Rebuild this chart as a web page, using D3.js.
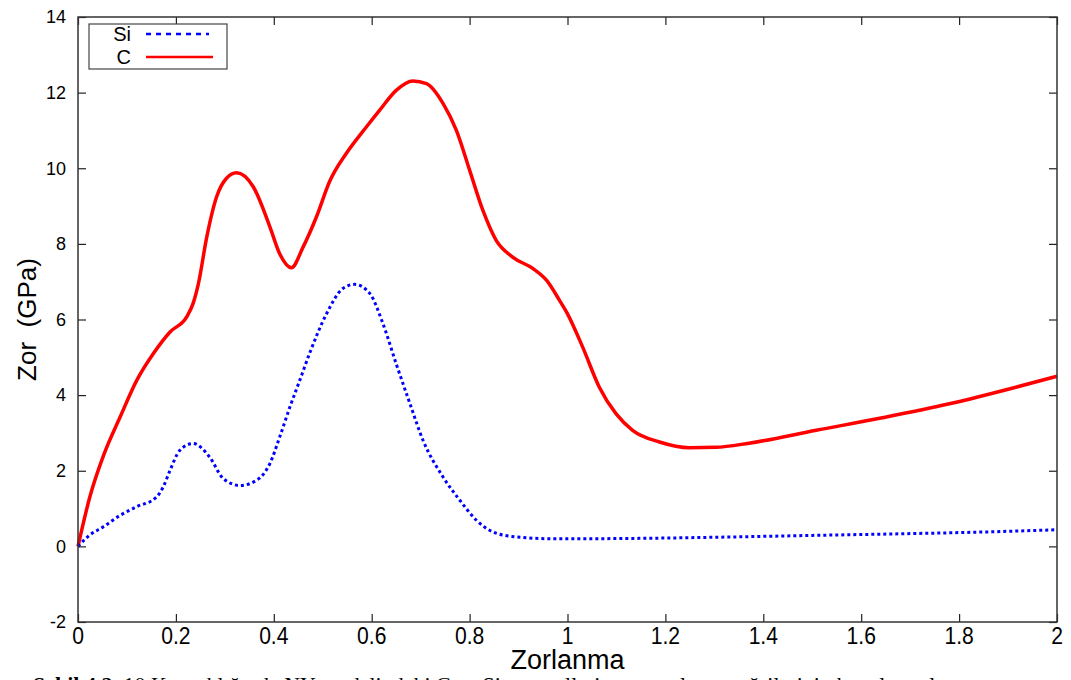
<!DOCTYPE html>
<html>
<head>
<meta charset="utf-8">
<script src="https://cdn.jsdelivr.net/npm/d3@7"></script>
<style>
  body { margin: 0; background: #fff; }
  text { font-family: "Liberation Sans", Arial, sans-serif; }
</style>
</head>
<body>
<div id="chart"></div>
<script>
// strain values and stress (GPa)
let xC = [0, 0.024, 0.052, 0.086, 0.12, 0.154, 0.188, 0.222, 0.235, 0.246, 0.263, 0.283, 0.303, 0.324, 0.358, 0.392, 0.412, 0.436, 0.46, 0.487, 0.514, 0.548, 0.589, 0.616, 0.65, 0.684, 0.712, 0.746, 0.773, 0.8, 0.827, 0.854, 0.888, 0.929, 0.957, 0.984, 1.0, 1.031, 1.065, 1.099, 1.133, 1.188, 1.249, 1.303, 1.371, 1.508, 1.643, 1.78, 1.916, 2.0];
let yC = [0, 1.3, 2.4, 3.42, 4.39, 5.1, 5.67, 6.07, 6.42, 6.95, 8.18, 9.24, 9.73, 9.88, 9.51, 8.45, 7.74, 7.37, 7.92, 8.71, 9.65, 10.39, 11.09, 11.53, 12.06, 12.31, 12.24, 11.71, 11.0, 9.95, 8.89, 8.1, 7.65, 7.35, 7.04, 6.5, 6.15, 5.27, 4.21, 3.51, 3.07, 2.76, 2.61, 2.62, 2.73, 3.07, 3.4, 3.77, 4.21, 4.5];

let xSi = [0, 0.024, 0.052, 0.086, 0.12, 0.16, 0.174, 0.188, 0.208, 0.235, 0.269, 0.297, 0.331, 0.365, 0.392, 0.412, 0.433, 0.453, 0.473, 0.508, 0.541, 0.565, 0.596, 0.623, 0.65, 0.678, 0.705, 0.746, 0.78, 0.814, 0.848, 0.895, 0.976, 1.2, 1.34, 1.5, 1.71, 1.85, 2.0];
let ySi = [0, 0.3, 0.52, 0.82, 1.05, 1.3, 1.57, 2.01, 2.54, 2.72, 2.36, 1.79, 1.61, 1.75, 2.19, 2.89, 3.69, 4.39, 5.1, 6.16, 6.82, 6.93, 6.69, 5.89, 4.83, 3.78, 2.8, 1.83, 1.22, 0.69, 0.38, 0.25, 0.2, 0.22, 0.25, 0.29, 0.34, 0.38, 0.44];

let xTicks = [0, 0.2, 0.4, 0.6, 0.8, 1, 1.2, 1.4, 1.6, 1.8, 2];
let yTicks = [-2, 0, 2, 4, 6, 8, 10, 12, 14];

let seriesNames = ["Si", "C"];
let seriesColors = ["#0000ff", "#ff0000"];

var width = 1071, height = 680;
var margin = { top: 17, right: 14, bottom: 58, left: 78 };

var svg = d3.select("#chart")
  .append("svg")
  .attr("width", width)
  .attr("height", height);

var x = d3.scaleLinear()
  .domain([0, 2])
  .range([margin.left, width - margin.right]);

var y = d3.scaleLinear()
  .domain([-2, 14])
  .range([height - margin.bottom, margin.top]);

var line = d3.line()
  .x(d => x(d[0]))
  .y(d => y(d[1]))
  .curve(d3.curveMonotoneX);

let dataSi = xSi.map((v, i) => [v, ySi[i]]);
let dataC = xC.map((v, i) => [v, yC[i]]);

svg.append("path")
  .datum(dataC)
  .attr("fill", "none")
  .attr("stroke", seriesColors[1])
  .attr("stroke-width", 3.5)
  .attr("d", line);

svg.append("path")
  .datum(dataSi)
  .attr("fill", "none")
  .attr("stroke", seriesColors[0])
  .attr("stroke-width", 3)
  .attr("stroke-dasharray", "3,3")
  .attr("d", line);

// axes, ticks inward on all four sides
var tickLen = 8;
svg.append("g")
  .attr("transform", "translate(0," + y(-2) + ")")
  .call(d3.axisBottom(x).tickValues(xTicks).tickSize(-tickLen).tickFormat(""))
  .call(g => g.select(".domain").remove());

// condensed x labels, scaled around the tick position
xTicks.forEach(function(t) {
  svg.append("text")
    .attr("transform", "translate(" + x(t) + "," + 644 + ") scale(0.88,1)")
    .attr("text-anchor", "middle")
    .attr("font-size", 24)
    .text(String(t));
});

svg.append("g")
  .attr("transform", "translate(0," + y(14) + ")")
  .call(d3.axisTop(x).tickValues(xTicks).tickSize(-tickLen).tickFormat(""))
  .call(g => g.select(".domain").remove());

svg.append("g")
  .attr("transform", "translate(" + x(0) + ",0)")
  .call(d3.axisLeft(y).tickValues(yTicks).tickSize(-tickLen).tickPadding(12)
    .tickFormat(d => String(d)))
  .call(g => g.select(".domain").remove())
  .call(g => g.selectAll("text").attr("font-size", 18).attr("fill", "#000")
    .attr("font-family", "Liberation Sans, Arial, sans-serif"));

svg.append("g")
  .attr("transform", "translate(" + x(2) + ",0)")
  .call(d3.axisRight(y).tickValues(yTicks).tickSize(-tickLen).tickFormat(""))
  .call(g => g.select(".domain").remove());

svg.selectAll(".tick line").attr("stroke", "#222").attr("stroke-width", 1.2);

svg.append("rect")
  .attr("x", x(0))
  .attr("y", y(14))
  .attr("width", x(2) - x(0))
  .attr("height", y(-2) - y(14))
  .attr("fill", "none")
  .attr("stroke", "#333")
  .attr("stroke-width", 1.5);

// axis titles
svg.append("text")
  .attr("x", (x(0) + x(2)) / 2)
  .attr("y", 669)
  .attr("text-anchor", "middle")
  .attr("font-size", 27)
  .text("Zorlanma");

svg.append("text")
  .attr("transform", "translate(36," + y(6) + ") rotate(-90)")
  .attr("text-anchor", "middle")
  .attr("font-size", 26)
  .style("white-space", "pre")
  .text("Zor  (GPa)");

// legend
var legend = svg.append("g");
legend.append("rect")
  .attr("x", 89).attr("y", 24)
  .attr("width", 138).attr("height", 45)
  .attr("fill", "#fff")
  .attr("stroke", "#444")
  .attr("stroke-width", 1.2);

seriesNames.forEach(function(name, i) {
  var ly = 34 + i * 23;
  legend.append("text")
    .attr("x", 131).attr("y", ly + 7)
    .attr("text-anchor", "end")
    .attr("font-size", 20)
    .text(name);
  legend.append("line")
    .attr("x1", 146).attr("x2", i == 0 ? 209 : 213)
    .attr("y1", ly).attr("y2", ly)
    .attr("stroke", seriesColors[i])
    .attr("stroke-width", 2.5)
    .attr("stroke-dasharray", i == 0 ? "5,5" : null);
});

// caption, cut by the bottom edge as in the source
var cap = svg.append("text")
  .attr("x", 33)
  .attr("y", 692)
  .attr("font-size", 22)
  .style("font-family", "Liberation Serif, Times New Roman, serif");
cap.append("tspan").attr("font-weight", "bold").text("Şekil 4.2. ");
cap.append("tspan").text("10 K sıcaklığında NY modelindeki C ve Si nanotellerin zor-zorlanma eğrilerinin karşılaştırılması");
</script>
</body>
</html>
